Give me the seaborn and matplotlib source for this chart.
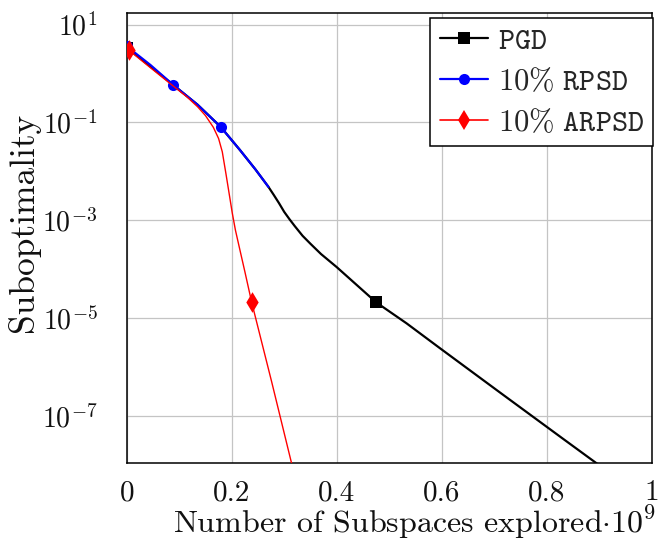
import matplotlib
matplotlib.use("Agg")
import matplotlib.pyplot as plt
import seaborn as sns
from matplotlib.lines import Line2D
from matplotlib.ticker import NullLocator

# ---------------- data ----------------
pgd_x = [0.0, 0.089, 0.135, 0.179, 0.216, 0.245, 0.27, 0.28, 0.29, 0.30, 0.31,
         0.32, 0.335, 0.35, 0.37, 0.40, 0.475, 0.533, 0.597, 0.711, 0.831,
         0.895, 0.91]
pgd_y = [3.4, 0.58, 0.23, 0.081, 0.027, 0.011, 4.8e-3, 3.3e-3, 2.24e-3, 1.48e-3,
         1.05e-3, 7.6e-4, 4.8e-4, 3.3e-4, 2.04e-4, 1.1e-4, 2.1e-5, 7.8e-6,
         2.4e-6, 3.0e-7, 3.4e-8, 1.07e-8, 8.1e-9]
pgd_mark = [0, 16]

rpsd_x = [0.0, 0.045, 0.089, 0.135, 0.179, 0.216, 0.245, 0.27]
rpsd_y = [3.6, 1.5, 0.58, 0.23, 0.081, 0.027, 0.011, 4.8e-3]
rpsd_mark = [0, 2, 4]

arpsd_x = [0.004, 0.045, 0.089, 0.115, 0.135, 0.15, 0.165, 0.175, 0.182,
           0.189, 0.195, 0.201, 0.207, 0.215, 0.225, 0.238, 0.276, 0.314, 0.322]
arpsd_y = [3.0, 1.32, 0.55, 0.331, 0.209, 0.138, 0.0794, 0.0468, 0.0251,
           8.9e-3, 3.55e-3, 1.41e-3, 6.3e-4, 2.63e-4, 8.9e-5, 2.1e-5, 5.0e-7,
           1.07e-8, 5.0e-9]
arpsd_mark = [0, 15]

series_labels = [r"$\mathtt{PGD}$", r"$10\%\ \mathtt{RPSD}$", r"$10\%\ \mathtt{ARPSD}$"]
xtick_vals = [0, 0.2, 0.4, 0.6, 0.8, 1.0]
xtick_labels = ["0", "0.2", "0.4", "0.6", "0.8", "1"]
ytick_vals = [1e1, 1e-1, 1e-3, 1e-5, 1e-7]
ytick_labels = [r"$10^{1}$", r"$10^{-1}$", r"$10^{-3}$", r"$10^{-5}$", r"$10^{-7}$"]
xlabel = r"Number of Subspaces explored$\cdot 10^{9}$"
ylabel = "Suboptimality"

# ---------------- style ----------------
sns.set_theme(style="white")
plt.rcParams["font.family"] = "serif"
plt.rcParams["font.serif"] = ["cmr10"]
plt.rcParams["mathtext.fontset"] = "cm"
plt.rcParams["axes.unicode_minus"] = False

fig = plt.figure(figsize=(6.59, 5.47), dpi=100)
ax = fig.add_axes([0.1923, 0.153, 0.7967, 0.823])
ax.set_yscale("log")

styles = [
    dict(color="#000000", lw=1.6, marker="s", ms=8.5),
    dict(color="#0000ff", lw=1.6, marker="o", ms=8.0),
    dict(color="#ff0000", lw=1.0, marker="d", ms=10.5),
]
datasets = [(pgd_x, pgd_y, pgd_mark), (rpsd_x, rpsd_y, rpsd_mark),
            (arpsd_x, arpsd_y, arpsd_mark)]

handles = []
for i, ((xs, ys, mk), st) in enumerate(zip(datasets, styles)):
    sns.lineplot(x=xs, y=ys, sort=False, estimator=None, color=st["color"],
                 lw=st["lw"], ax=ax, zorder=3 + 2 * i, legend=False)
    sns.scatterplot(x=[xs[j] for j in mk], y=[ys[j] for j in mk],
                    marker=st["marker"], s=st["ms"] ** 2, color=st["color"],
                    edgecolor=st["color"], linewidth=0, ax=ax,
                    zorder=4 + 2 * i, legend=False)
    handles.append(Line2D([], [], color=st["color"], lw=st["lw"] if i < 2 else 1.2,
                          marker=st["marker"], markersize=st["ms"],
                          markeredgewidth=0, label=series_labels[i]))

ax.set_xlim(0, 1)
ax.set_ylim(10 ** -7.97, 10 ** 1.235)
ax.set_xticks(xtick_vals)
ax.set_xticklabels(xtick_labels)
ax.set_yticks(ytick_vals)
ax.set_yticklabels(ytick_labels)
ax.yaxis.set_minor_locator(NullLocator())
ax.grid(True, color="#c4c4c4", lw=0.9)
ax.set_axisbelow(True)
for sp in ax.spines.values():
    sp.set_color("black")
    sp.set_linewidth(1.1)
ax.tick_params(axis="both", which="major", direction="out", length=8,
               width=0.9, color="#888888", labelcolor="#111111")
ax.tick_params(axis="x", pad=4, labelsize=21)
ax.tick_params(axis="y", pad=13, labelsize=20)
ax.set_xlabel("")
ax.set_ylabel("")

fig.text(656 / 659, 1 - 533 / 547, xlabel, ha="right", va="baseline",
         fontsize=23, color="#111111")
fig.text(24 / 659, 1 - 222 / 547, ylabel, rotation=90, ha="center", va="center",
         fontsize=25.5, color="#111111")

leg = ax.legend(handles=handles, loc="upper right", bbox_to_anchor=(1.002, 0.989),
                borderaxespad=0, fontsize=22, frameon=True, fancybox=False,
                handlelength=1.6, handletextpad=0.3, labelspacing=0.4,
                borderpad=0.3)
leg.get_frame().set_edgecolor("black")
leg.get_frame().set_linewidth(1.1)
leg.get_frame().set_alpha(1)
leg.set_zorder(20)

fig.savefig("out.png", dpi=100)
